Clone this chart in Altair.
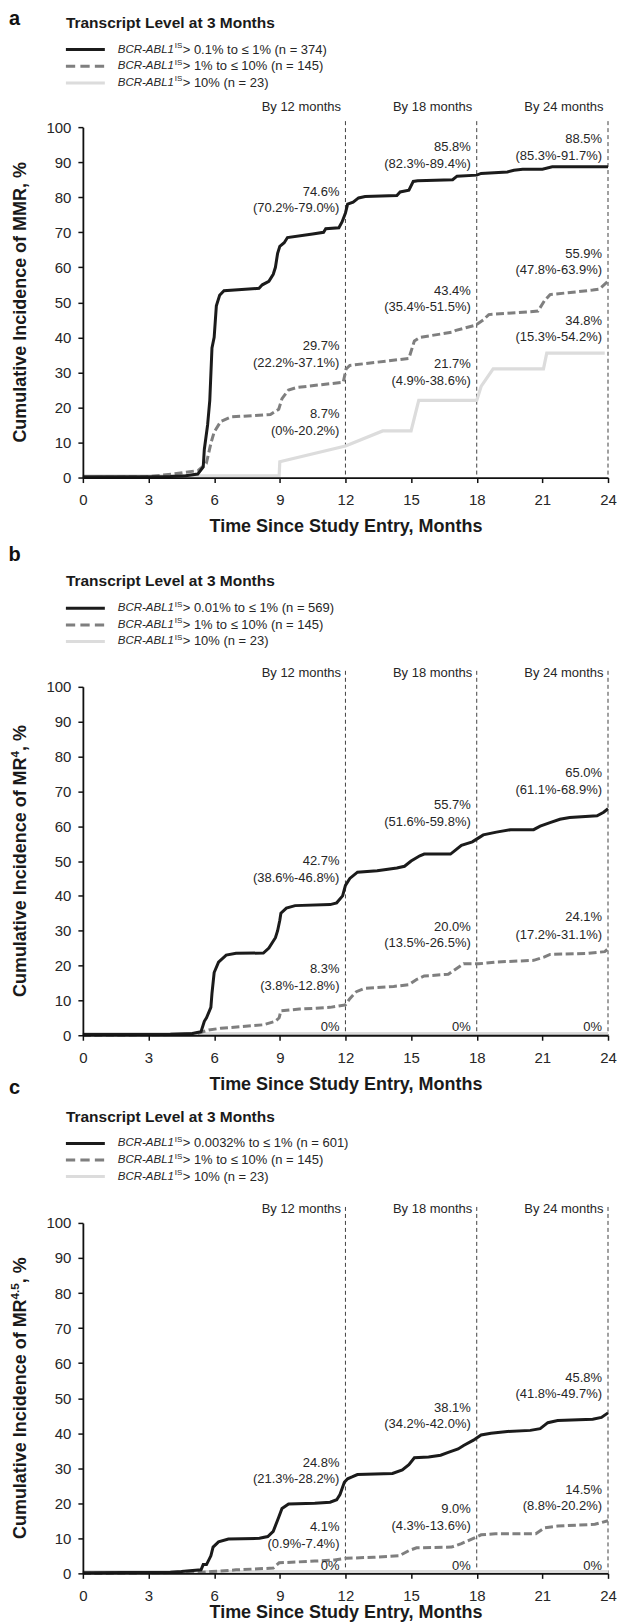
import altair as alt
import pandas as pd

FONT = "Liberation Sans"
W = 526

MONTH_TICKS = [0, 3, 6, 9, 12, 15, 18, 21, 24]
PCT_TICKS = [0, 10, 20, 30, 40, 50, 60, 70, 80, 90, 100]
LANDMARK_MONTHS = [12, 18, 24]
LANDMARK_LABELS = ["By 12 months", "By 18 months", "By 24 months"]
LEGEND_TITLE = "Transcript Level at 3 Months"
X_TITLE = "Time Since Study Entry, Months"
GENE = "BCR-ABL1"
GENE_SUP = "IS"
MID_LABEL = " > 1% to ≤ 10% (n = 145)"
HIGH_LABEL = " > 10% (n = 23)"

# ---------------- panel a (MMR) ----------------
A_LOW_LABEL = " > 0.1% to ≤ 1% (n = 374)"
A_LOW_X = [0, 4.0, 4.7, 5.25, 5.5, 5.55, 5.7, 5.8, 5.9, 6.0,
           6.1, 6.25, 6.45, 8.05, 8.2, 8.5, 8.7, 8.8, 8.9, 9.0,
           9.2, 9.35, 10.5, 11.0, 11.1, 11.7, 11.85, 12.0, 12.1, 12.35,
           12.6, 12.9, 14.35, 14.5, 14.9, 15.1, 15.3, 16.9, 17.1, 18.0,
           18.2, 19.4, 19.7, 20.1, 21.0, 21.45, 24.0]
A_LOW_Y = [0.2, 0.3, 0.5, 1, 3, 8, 15, 22, 37, 40,
           49, 52, 53.3, 54, 55, 56, 58, 60, 64, 66,
           67, 68.5, 69.5, 70, 71, 71.3, 73, 75.5, 78, 78.6,
           79.8, 80.2, 80.5, 81.5, 82, 84.5, 84.7, 85, 86, 86.3,
           86.8, 87.2, 87.7, 88, 88, 88.7, 88.7]
A_MID_X = [0, 2.9, 4.1, 5.26, 5.64, 5.86, 6.0, 6.3, 6.77, 8.57,
           8.95, 9.1, 9.4, 9.77, 11.9, 12.03, 12.2, 14.9, 15.15, 15.4,
           16.9, 17.05, 17.95, 18.3, 18.55, 20.8, 21.1, 21.35, 23.3, 23.6,
           24.0]
A_MID_Y = [0, 0.2, 1, 2, 4, 10, 13, 16, 17.3, 18,
           19.5, 22.5, 25, 25.7, 27.2, 31, 32, 34, 39, 40,
           41.5, 42, 43.5, 45, 46.5, 47.5, 50.5, 52.2, 53.5, 53.8,
           56]
A_HIGH_X = [0, 8.97, 9.0, 12.0, 12.2, 13.7, 15.0, 15.35, 18.0, 18.2, 18.75, 21.05, 21.2, 23.85]
A_HIGH_Y = [0.5, 0.5, 4.5, 9, 9.5, 13.3, 13.3, 22, 22, 26, 31, 31, 35.5, 35.5]
A_ANN_MONTH = [12, 12, 12, 12, 12, 12, 18, 18, 18, 18, 18, 18, 24, 24, 24, 24, 24, 24]
A_ANN_Y = [81.6, 76.9, 37.4, 32.6, 18.1, 13.4, 94.3, 89.6, 53.1, 48.6, 32.4, 27.6,
           96.5, 91.9, 63.8, 59.2, 44.8, 40.2]
A_ANN_TEXT = ["74.6%", "(70.2%-79.0%)", "29.7%", "(22.2%-37.1%)", "8.7%", "(0%-20.2%)",
              "85.8%", "(82.3%-89.4%)", "43.4%", "(35.4%-51.5%)", "21.7%", "(4.9%-38.6%)",
              "88.5%", "(85.3%-91.7%)", "55.9%", "(47.8%-63.9%)", "34.8%", "(15.3%-54.2%)"]

# ---------------- panel b (MR4) ----------------
B_LOW_LABEL = " > 0.01% to ≤ 1% (n = 569)"
B_LOW_X = [0, 4.0, 5.0, 5.4, 5.55, 5.65, 5.85, 5.9, 6.0, 6.2,
           6.55, 7.0, 8.25, 8.5, 8.8, 8.9, 9.0, 9.05, 9.3, 9.7,
           11.3, 11.6, 11.87, 12.0, 12.2, 12.55, 13.45, 14.35, 14.7, 15.0,
           15.4, 15.6, 16.8, 17.0, 17.3, 17.8, 18.05, 18.3, 18.9, 19.55,
           20.6, 20.9, 21.35, 21.8, 22.25, 23.5, 23.8, 24.0]
B_LOW_Y = [0.2, 0.3, 0.5, 1, 4, 5, 8, 12, 18, 21,
           23, 23.5, 23.6, 25, 28, 30, 33, 35, 36.5, 37.2,
           37.5, 38, 40, 43, 45, 46.8, 47.2, 48, 48.5, 50,
           51.5, 52, 52, 53, 54.5, 55.5, 56.5, 57.5, 58.3, 59,
           59, 60, 61, 62, 62.5, 63, 64, 65]
B_MID_X = [0, 4.5, 5.2, 5.75, 6.3, 8.25, 8.8, 8.97, 9.05, 9.9,
           11.3, 12.0, 12.2, 12.5, 12.9, 14.2, 14.9, 15.25, 15.6, 16.7,
           17.05, 17.4, 18.1, 18.85, 20.6, 21.1, 21.35, 23.1, 23.85, 24.0]
B_MID_Y = [0, 0.2, 0.5, 1.5, 2, 3, 4, 5, 7, 7.5,
           8, 8.7, 10.5, 12.5, 13.5, 14, 14.5, 16, 17, 17.5,
           19, 20.5, 20.5, 21, 21.5, 22.5, 23.2, 23.5, 24, 24.8]
B_HIGH_X = [0, 24]
B_HIGH_Y = [0.5, 0.5]
B_ANN_MONTH = [12, 12, 12, 12, 12, 18, 18, 18, 18, 18, 24, 24, 24, 24, 24]
B_ANN_Y = [50.0, 45.1, 19.1, 14.0, 2.4, 66.0, 61.1, 31.2, 26.4, 2.4, 75.2, 70.3, 33.8, 28.8, 2.4]
B_ANN_TEXT = ["42.7%", "(38.6%-46.8%)", "8.3%", "(3.8%-12.8%)", "0%",
              "55.7%", "(51.6%-59.8%)", "20.0%", "(13.5%-26.5%)", "0%",
              "65.0%", "(61.1%-68.9%)", "24.1%", "(17.2%-31.1%)", "0%"]

# ---------------- panel c (MR4.5) ----------------
C_LOW_LABEL = " > 0.0032% to ≤ 1% (n = 601)"
C_LOW_X = [0, 4.0, 4.5, 5.4, 5.5, 5.65, 5.85, 5.95, 6.2, 6.65,
           8.07, 8.45, 8.7, 8.95, 9.1, 9.4, 10.6, 11.3, 11.6, 11.75,
           11.95, 12.1, 12.3, 12.55, 14.15, 14.6, 14.9, 15.15, 15.8, 16.35,
           16.7, 17.15, 17.4, 17.85, 18.2, 18.65, 19.4, 20.45, 20.9, 21.25,
           21.7, 23.3, 23.7, 24.0]
C_LOW_Y = [0.2, 0.3, 0.5, 1, 2.5, 2.5, 5, 7.5, 9, 9.8,
           10, 10.5, 12, 16, 18.5, 19.8, 20, 20.3, 21, 22.5,
           26, 27, 27.5, 28.2, 28.5, 29.5, 31, 33, 33.2, 33.7,
           34.5, 35.5, 36.5, 38, 39.5, 40, 40.5, 40.8, 41.3, 43,
           43.6, 44, 44.5, 45.8]
C_MID_X = [0, 5.5, 5.9, 7.0, 8.7, 8.97, 10.6, 11.5, 12.0, 13.3,
           14.45, 14.9, 15.25, 16.85, 17.3, 17.85, 18.2, 18.85, 20.7, 21.1,
           21.7, 23.4, 24.0]
C_MID_Y = [0, 0.3, 0.5, 1, 1.5, 3, 3.5, 3.8, 4.3, 4.6,
           5, 6.5, 7.3, 7.5, 8.5, 10, 11, 11.3, 11.3, 13,
           13.5, 14, 15]
C_HIGH_X = [0, 24]
C_HIGH_Y = [0.5, 0.5]
C_ANN_MONTH = [12, 12, 12, 12, 12, 18, 18, 18, 18, 18, 24, 24, 24, 24, 24]
C_ANN_Y = [31.4, 26.8, 13.3, 8.4, 2.1, 47.1, 42.5, 18.3, 13.5, 2.1, 55.8, 51.2, 23.9, 19.1, 2.1]
C_ANN_TEXT = ["24.8%", "(21.3%-28.2%)", "4.1%", "(0.9%-7.4%)", "0%",
              "38.1%", "(34.2%-42.0%)", "9.0%", "(4.3%-13.6%)", "0%",
              "45.8%", "(41.8%-49.7%)", "14.5%", "(8.8%-20.2%)", "0%"]

# ---------------- styling ----------------
COL_LOW, COL_MID, COL_HIGH = "#1b1b1b", "#7f7f7f", "#dcdcdc"
TXT = "#262626"
TICK_FS, TITLE_FS, ANN_FS, HEAD_FS, LETTER_FS = 15, 18, 13, 15.5, 20
GENE_FS, SUP_FS, LEG_FS = 11.5, 8, 13
LETTER_X = -68.4

# Arial-metric widths (per 1000 em) used to place mixed-style text runs
REG_W = {"B": 667, "C": 722, "R": 722, "-": 333, "A": 667, "L": 556, "1": 556,
         "I": 278, "S": 667}
BOLD_W = {"C": 722, "u": 611, "m": 889, "l": 278, "a": 556, "t": 333, "i": 278,
          "v": 556, "e": 556, " ": 278, "I": 278, "n": 611, "c": 556, "d": 611,
          "o": 611, "f": 333, "M": 833, "R": 722, ",": 278, "%": 889, "4": 556,
          ".": 278, "5": 556}


def text_w(s, table, size):
    return sum(table.get(ch, 556) for ch in s) / 1000.0 * size


def one(text):
    return pd.DataFrame({"t": [text]})


def panel(letter, low_label, ytitle, series, ann, H, lay, extra_letter=None, title_pad=10):
    xenc = alt.X("month:Q", scale=alt.Scale(domain=[0, 24], nice=False, zero=False),
                 axis=alt.Axis(values=MONTH_TICKS, format="d", title=X_TITLE,
                               titleFontSize=TITLE_FS, titleFontWeight="bold",
                               titlePadding=title_pad, labelFontSize=TICK_FS, labelPadding=10,
                               tickSize=5, grid=False, labelFlush=False, zindex=1))
    yenc = alt.Y("pct:Q", scale=alt.Scale(domain=[0, 100], nice=False),
                 axis=alt.Axis(values=PCT_TICKS, title=None, labelFontSize=TICK_FS,
                               labelPadding=7, tickSize=5, grid=False, zindex=1))
    layers = []
    # landmark dashed lines and headers
    lm = pd.DataFrame({"month": LANDMARK_MONTHS, "label": LANDMARK_LABELS})
    layers.append(alt.Chart(lm).mark_rule(color="#404040", strokeWidth=1, strokeDash=[4, 3]).encode(
        x=xenc, y=alt.value(lay["rule_top"]), y2=alt.value(H)))
    layers.append(alt.Chart(lm).mark_text(align="right", baseline="middle", dx=-4.5,
                                          fontSize=ANN_FS, color=TXT).encode(
        x=xenc, y=alt.value(lay["by"]), text="label:N"))
    # curves
    styles = [
        dict(color=COL_HIGH, strokeWidth=3.2),
        dict(color=COL_MID, strokeWidth=3, strokeDash=[8, 3.5]),
        dict(color=COL_LOW, strokeWidth=3),
    ]
    for (xs, ys), st in zip(series, styles):
        df = pd.DataFrame({"month": xs, "pct": ys})
        layers.append(alt.Chart(df).mark_line(**st).encode(x=xenc, y=yenc))
    # estimates / confidence intervals
    adf = pd.DataFrame({"month": ann[0], "pct": ann[1], "t": ann[2]})
    layers.append(alt.Chart(adf).mark_text(align="right", baseline="middle", dx=-6,
                                           fontSize=ANN_FS, color=TXT).encode(
        x=xenc, y=yenc, text="t:N"))
    # panel letter(s) + legend header
    letters = []
    if letter:
        letters.append((letter, lay["letter"]))
    if extra_letter is not None:
        letters.append(extra_letter)
    for lt, ly in letters:
        layers.append(alt.Chart(one(lt)).mark_text(align="center", baseline="middle",
                                                   fontSize=LETTER_FS, fontWeight="bold",
                                                   color="#111").encode(
            x=alt.value(LETTER_X), y=alt.value(ly), text="t:N"))
    layers.append(alt.Chart(one(LEGEND_TITLE)).mark_text(align="left", baseline="middle",
                                                         fontSize=HEAD_FS, fontWeight="bold",
                                                         color="#1a1a1a").encode(
        x=alt.value(-17), y=alt.value(lay["head"]), text="t:N"))
    # legend rows
    labels = [low_label, MID_LABEL, HIGH_LABEL]
    samp = [dict(color=COL_LOW, strokeWidth=3),
            dict(color=COL_MID, strokeWidth=3, strokeDash=[9.3, 5.2]),
            dict(color=COL_HIGH, strokeWidth=3)]
    tx0 = 35
    gw = text_w(GENE, REG_W, GENE_FS)
    sw = text_w(GENE_SUP, REG_W, SUP_FS)
    for ly, lab, st in zip(lay["legend"], labels, samp):
        layers.append(alt.Chart(one(lab)).mark_rule(**st).encode(
            x=alt.value(-17), x2=alt.value(22), y=alt.value(ly)))
        layers.append(alt.Chart(one(GENE)).mark_text(align="left", baseline="middle",
                                                     fontSize=GENE_FS, fontStyle="italic",
                                                     color=TXT).encode(
            x=alt.value(tx0), y=alt.value(ly), text="t:N"))
        layers.append(alt.Chart(one(GENE_SUP)).mark_text(align="left", baseline="middle",
                                                         fontSize=SUP_FS, color=TXT).encode(
            x=alt.value(tx0 + gw + 0.8), y=alt.value(ly - 3.5), text="t:N"))
        layers.append(alt.Chart(one(lab)).mark_text(align="left", baseline="middle",
                                                    fontSize=LEG_FS, color=TXT).encode(
            x=alt.value(tx0 + gw + sw + 1.2), y=alt.value(ly), text="t:N"))
    # y-axis title (with optional superscript)
    ytx = -62
    base, sup, tail = ytitle
    sup_size = TITLE_FS * 0.65
    w_base = text_w(base, BOLD_W, TITLE_FS)
    w_sup = text_w(sup, BOLD_W, sup_size)
    w_tail = text_w(tail, BOLD_W, TITLE_FS)
    total = w_base + w_sup + w_tail
    y_p = H / 2 + total / 2 - w_base
    layers.append(alt.Chart(one(base)).mark_text(angle=270, align="right", baseline="middle",
                                                 fontSize=TITLE_FS, fontWeight="bold",
                                                 color="#1a1a1a").encode(
        x=alt.value(ytx), y=alt.value(y_p), text="t:N"))
    if sup:
        layers.append(alt.Chart(one(sup)).mark_text(angle=270, align="left", baseline="middle",
                                                    fontSize=sup_size, fontWeight="bold",
                                                    color="#1a1a1a").encode(
            x=alt.value(ytx - 6), y=alt.value(y_p), text="t:N"))
    layers.append(alt.Chart(one(tail)).mark_text(angle=270, align="left", baseline="middle",
                                                 fontSize=TITLE_FS, fontWeight="bold",
                                                 color="#1a1a1a").encode(
        x=alt.value(ytx), y=alt.value(y_p - w_sup), text="t:N"))
    return alt.layer(*layers).properties(width=W, height=H)


pa = panel("a", A_LOW_LABEL, ("Cumulative Incidence of MMR", "", ", %"),
           [(A_HIGH_X, A_HIGH_Y), (A_MID_X, A_MID_Y), (A_LOW_X, A_LOW_Y)],
           (A_ANN_MONTH, A_ANN_Y, A_ANN_TEXT), 351,
           dict(letter=-108, head=-104.3, legend=[-77.7, -61, -44.3], by=-20, rule_top=-6))
pb = panel("b", B_LOW_LABEL, ("Cumulative Incidence of MR", "4", ", %"),
           [(B_HIGH_X, B_HIGH_Y), (B_MID_X, B_MID_Y), (B_LOW_X, B_LOW_Y)],
           (B_ANN_MONTH, B_ANN_Y, B_ANN_TEXT), 349,
           dict(letter=-132.4, head=-105.5, legend=[-78.6, -62, -45.5], by=-13.4, rule_top=-16),
           extra_letter=("c", 401.6))
pc = panel("", C_LOW_LABEL, ("Cumulative Incidence of MR", "4.5", ", %"),
           [(C_HIGH_X, C_HIGH_Y), (C_MID_X, C_MID_Y), (C_LOW_X, C_LOW_Y)],
           (C_ANN_MONTH, C_ANN_Y, C_ANN_TEXT), 351,
           dict(letter=-106, head=-106.5, legend=[-79.6, -63, -46.5], by=-14.4, rule_top=-16),
           title_pad=0)

chart = alt.vconcat(pa, alt.vconcat(pb, pc, spacing=11), spacing=8.6).properties(
    padding={"left": 0, "top": 0, "right": 0, "bottom": 0}
).configure(font=FONT).configure_view(stroke=None).configure_axis(
    domainColor="#111", domainWidth=1.8, tickColor="#111", tickWidth=1.5,
    labelColor=TXT, titleColor="#1a1a1a", labelFont=FONT, titleFont=FONT
).configure_text(font=FONT)

chart.save("out.html", embed_options={"renderer": "svg", "actions": False})
